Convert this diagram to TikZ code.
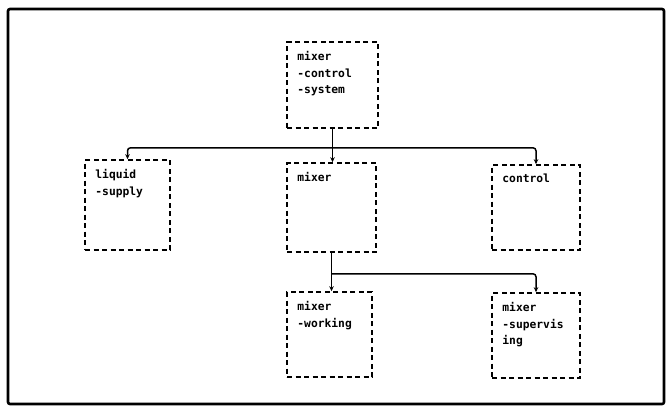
\documentclass[tikz,border=0pt]{standalone}
\usepackage{fontspec}
\setmonofont{DejaVu Sans Mono}
\usetikzlibrary{arrows.meta}
\tikzset{
  box/.style={draw, rectangle, dash pattern=on 5pt off 3.5pt, line width=1.6pt, inner sep=0pt},
  txt/.style={anchor=north west, align=left, inner sep=0pt, xshift=11pt, yshift=-10pt,
    font=\ttfamily\bfseries\fontsize{11.3}{16.5}\selectfont},
  conn/.style={line width=1.5pt},
  arr/.style={conn, -{Stealth[length=5pt,width=4.5pt]}, rounded corners=3pt},
  frame/.style={draw, line width=2.6pt, rounded corners=2pt}
}
\begin{document}
\begin{tikzpicture}[x=1pt,y=-1pt]
\useasboundingbox (0,0) rectangle (669,410);
\draw[frame] (8,9) rectangle (664,404);
\node[box, minimum width=91pt, minimum height=86pt,
  label={[txt]north west:{mixer\\-control\\-system}}] (top) at (332.5,85) {};
\node[box, minimum width=85pt, minimum height=90pt,
  label={[txt]north west:{liquid\\-supply}}] (liquid) at (127.5,205) {};
\node[box, minimum width=89pt, minimum height=89pt,
  label={[txt]north west:{mixer}}] (mixer) at (331.5,207.5) {};
\node[box, minimum width=88pt, minimum height=85pt,
  label={[txt]north west:{control}}] (control) at (536,207.5) {};
\node[box, minimum width=85pt, minimum height=85pt,
  label={[txt]north west:{mixer\\-working}}] (working) at (329.5,334.5) {};
\node[box, minimum width=88pt, minimum height=85pt,
  label={[txt]north west:{mixer\\-supervis\\ing}}] (superv) at (536,335.5) {};
% first bus
\path (top.south) ++(0,19) coordinate (b1);
\draw[arr] (top.south) -- (top.south |- mixer.north);
\draw[arr] (b1) -| (liquid.north);
\draw[arr] (b1) -| (control.north);
% second bus
\path (mixer.south) ++(0,21) coordinate (b2);
\draw[conn] (mixer.south) -- (b2);
\draw[arr] (b2) -- (b2 |- working.north);
\draw[arr] (b2) -| (superv.north);
\end{tikzpicture}
\end{document}
